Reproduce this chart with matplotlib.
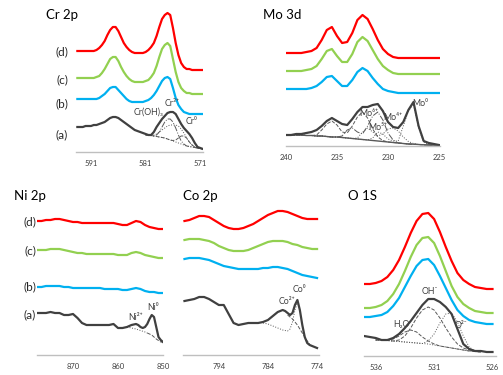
import numpy as np
import matplotlib
matplotlib.use("Agg")
import matplotlib.pyplot as plt

# intensities (arbitrary units, offset stacked)

# ---- Cr 2p ----
cr_ev = np.arange(593.5, 570.4, -0.5)
cr_d = [101, 101, 101, 101, 101, 101, 101, 102, 104, 107, 111, 117, 122, 125, 125, 121, 115, 109, 105, 102,
        100, 99, 99, 99, 99, 100, 102, 105, 109, 116, 125, 133, 137, 139, 137, 124, 109, 97, 89, 85,
        83, 83, 82, 82, 82, 82, 82]
cr_c = [74, 74, 74, 74, 74, 74, 74, 75, 76, 79, 83, 88, 93, 95, 95, 91, 85, 80, 76, 73,
        71, 70, 70, 70, 70, 71, 72, 75, 79, 86, 95, 103, 107, 109, 106, 93, 80, 70, 64, 61,
        59, 59, 58, 58, 58, 58, 58]
cr_b = [53, 53, 53, 53, 53, 53, 53, 53, 54, 56, 58, 61, 64, 65, 65, 62, 59, 56, 53, 51,
        50, 50, 50, 50, 50, 51, 52, 54, 57, 61, 66, 71, 74, 75, 73, 64, 54, 47, 43, 40,
        39, 38, 38, 38, 38, 38, 38]
cr_a = [25, 25, 25, 26, 26, 26, 27, 27, 28, 29, 30, 32, 34, 35, 35, 34, 32, 30, 28, 26,
        24, 22, 21, 20, 19, 18, 17, 17, 20, 25, 29, 33, 36, 39, 40, 40, 38, 33, 28, 24,
        21, 18, 14, 9, 5, 4, 3]
cr_fit_ev = np.arange(581, 570.4, -0.5)
cr_bg = [17, 17, 16.5, 16, 15.5, 15, 14.5, 14, 13, 12, 11, 10, 9, 8, 7, 6, 5.5, 5, 4.5, 4, 3.5, 3]
cr_3 = [17, 17, 16.5, 16, 17, 20, 25, 30, 33, 33, 30, 24, 17, 11, 8, 6, 5.5, 5, 4.5, 4, 3.5, 3]
cr_oh = [17, 17, 17, 17, 18, 20, 22, 24, 26, 27, 27, 27, 26, 23, 19, 14, 10, 7, 5, 4, 3.5, 3]
cr_0 = [17, 17, 16.5, 16, 15.5, 15, 14.5, 14, 13, 12, 11.5, 12, 14, 16, 16, 14, 10, 7, 5, 4, 3.5, 3]

# ---- Mo 3d ----
mo_ev = np.arange(240, 224.9, -0.5)
mo_d = [93, 93, 93, 93, 94, 95, 98, 106, 116, 119, 110, 103, 104, 113, 126, 131, 127, 117, 106, 97,
        92, 89, 88, 88, 88, 88, 88, 88, 88, 88, 88]
mo_c = [75, 75, 75, 75, 76, 77, 80, 87, 95, 97, 90, 84, 84, 92, 104, 109, 105, 96, 87, 80,
        76, 73, 72, 72, 72, 72, 72, 72, 72, 72, 72]
mo_b = [57, 57, 57, 57, 57, 58, 60, 64, 69, 70, 65, 60, 60, 66, 74, 78, 75, 68, 62, 57,
        55, 54, 53, 53, 53, 53, 53, 53, 53, 53, 53]
mo_a = [11, 11, 12, 12, 13, 14, 16, 20, 25, 28, 25, 22, 21, 27, 34, 39, 39, 41, 42, 35,
        24, 19, 18, 24, 36, 44, 20, 5, 3, 2, 1]
mo_bg = [11, 11, 11, 11, 10.5, 10.5, 10, 10, 9.5, 9, 9, 8.5, 8, 7.5, 7, 6.5, 6, 5.5, 5, 4.5,
         4, 3.5, 3, 2.5, 2, 1.8, 1.5, 1.2, 1, 1, 1]
mo_6 = [11, 11, 11, 11, 10.5, 10.5, 11, 16, 22, 25, 21, 14, 13, 20, 29, 34, 28, 17, 9, 5.5,
        4, 3.5, 3, 2.5, 2, 1.8, 1.5, 1.2, 1, 1, 1]
mo_5 = [11, 11, 11, 11, 10.5, 10.5, 10, 10, 9.5, 9, 9, 10, 16, 18, 14, 12, 20, 30, 34, 26,
        13, 6, 3, 2.5, 2, 1.8, 1.5, 1.2, 1, 1, 1]
mo_4 = [11, 11, 11, 11, 10.5, 10.5, 10, 10, 9.5, 9, 9, 8.5, 8, 7.5, 8, 14, 18, 14, 10, 12,
        17, 18, 15, 9, 4.5, 2.5, 1.5, 1.2, 1, 1, 1]
mo_0 = [11, 11, 11, 11, 10.5, 10.5, 10, 10, 9.5, 9, 9, 8.5, 8, 7.5, 7, 6.5, 6, 8, 14, 12,
        7, 5, 5, 20, 35, 42, 18, 4, 1.5, 1, 1]

# ---- Ni 2p ----
ni_ev = np.arange(878, 849.9, -1.0)
ni_d = [134, 134, 135, 135, 136, 136, 135, 134, 133, 133, 132, 132, 132, 132, 132, 132, 132, 132, 131, 130,
        130, 132, 134, 133, 130, 128, 127, 126, 126]
ni_c = [105, 105, 105, 106, 106, 106, 105, 104, 103, 102, 102, 101, 101, 101, 101, 101, 101, 101, 100, 100,
        100, 102, 103, 102, 100, 99, 98, 97, 97]
ni_b = [68, 68, 69, 69, 69, 69, 68, 68, 67, 67, 67, 67, 67, 67, 67, 66, 66, 66, 66, 65,
        65, 66, 67, 66, 64, 63, 63, 62, 62]
ni_ev_a = [878, 877, 876, 875, 874, 873, 872, 871, 870, 869, 868, 867, 866, 865, 864, 863, 862, 861, 860, 859,
           858, 857, 856, 855.5, 855, 854.5, 854, 853.5, 853, 852.5, 852, 851.5, 851, 850.5, 850]
ni_a = [42, 42, 42, 43, 42, 42, 40, 40, 41, 37, 32, 30, 30, 30, 30, 30, 30, 31, 27, 27,
        28, 30, 31, 30, 28, 27, 28, 31, 36, 40, 38, 28, 18, 15, 13]
ni_dot_ev = [858, 856, 854, 853.5]
ni_dot = [28, 26, 23, 22]
ni_dash_ev = [853.5, 852.5, 851.5, 850.5, 850]
ni_dash = [22, 20, 16, 13, 13]

# ---- Co 2p ----
co_ev = np.arange(801, 773.9, -1.0)
co_d = [134, 135, 137, 139, 139, 138, 135, 132, 129, 127, 126, 126, 127, 129, 131, 134, 137, 140, 142, 144,
        144, 143, 141, 139, 137, 136, 136, 136]
co_c = [115, 116, 116, 116, 115, 114, 112, 109, 107, 105, 104, 104, 104, 105, 107, 109, 111, 113, 114, 114,
        114, 113, 111, 110, 108, 107, 106, 106]
co_b = [96, 97, 97, 97, 96, 95, 93, 91, 89, 88, 87, 86, 86, 86, 86, 86, 87, 87, 88, 88,
        87, 86, 84, 82, 80, 79, 78, 77]
co_ev_a = [801, 800, 799, 798, 797, 796, 795, 794, 793, 792, 791, 790, 789, 788, 787, 786, 785, 784, 783, 782,
           781, 780.5, 780, 779.5, 779, 778.5, 778, 777.5, 777, 776.5, 776, 775.5, 775, 774.5, 774]
co_a = [54, 55, 56, 58, 58, 56, 53, 50, 50, 41, 32, 30, 31, 32, 32, 32, 33, 35, 39, 43,
        45, 44, 42, 40, 42, 50, 55, 45, 30, 18, 12, 10, 9, 8, 7]
co_dot_ev = [785, 784, 783, 782, 781, 780, 779.5, 779, 778.5, 778]
co_dot = [32, 31, 29, 27, 25, 24, 26, 33, 45, 52]
co_dash_ev = [780, 779, 778, 777, 776, 775.5]
co_dash = [40, 36, 30, 22, 14, 11]

# ---- O 1s ----
o_ev = np.arange(537, 525.9, -0.5)
o_d = [72, 72, 73, 75, 79, 86, 96, 109, 123, 135, 142, 143, 137, 124, 109, 95, 83, 76, 72, 69, 68, 67, 67]
o_c = [48, 48, 49, 51, 55, 62, 72, 85, 99, 111, 118, 119, 113, 100, 85, 70, 59, 52, 48, 45, 44, 43, 43]
o_b = [39, 39, 40, 41, 44, 50, 58, 69, 80, 90, 96, 97, 91, 80, 68, 56, 46, 40, 36, 34, 33, 32, 32]
o_a = [20, 19, 18, 16, 16, 18, 22, 28, 35, 43, 51, 57, 57, 54, 49, 42, 27, 12, 7, 5, 5, 4, 4]
o_fit_ev = np.arange(536, 526.9, -0.5)
o_bg = [16, 16, 15.5, 15, 14.5, 14, 13.5, 13, 12.5, 12, 11, 10, 9, 8, 7, 6, 5, 4.5, 4]
o_h2o = [16, 16, 16, 17, 20, 24, 26, 24, 19, 15, 12, 10, 9, 8, 7, 6, 5, 4.5, 4]
o_oh = [16, 16, 15.5, 15, 16, 20, 28, 38, 46, 49, 46, 38, 28, 19, 12, 8, 6, 5, 4]
o_o2 = [16, 16, 15.5, 15, 14.5, 14, 13.5, 13, 12.5, 15, 22, 33, 42, 43, 34, 20, 9, 5, 4]

RED, GREEN, BLUE, DARK, FIT = "#ff0000", "#92d050", "#00b0f0", "#404040", "#595959"
W, H = 503, 375

plt.rcParams['font.family'] = ['Lato', 'DejaVu Sans']
fig = plt.figure(figsize=(W / 100, H / 100), dpi=100)


def panel(left, line_y, width, top, xlim, ticks):
    ax = fig.add_axes([left / W, (H - line_y) / H, width / W, (line_y - top) / H])
    ax.set_xlim(*xlim)
    ax.set_ylim(0, line_y - top)
    for s in ("left", "right", "top"):
        ax.spines[s].set_visible(False)
    ax.spines["bottom"].set_color("#bfbfbf")
    ax.spines["bottom"].set_linewidth(1.0)
    ax.set_xticks(ticks)
    ax.set_yticks([])
    ax.tick_params(axis="x", length=0, pad=6, labelsize=5.5, labelcolor="#404040")
    ax.patch.set_alpha(0)
    return ax


def spectra(ax, x, d, c, b, xa, a):
    ax.plot(x, d, color=RED, lw=1.6)
    ax.plot(x, c, color=GREEN, lw=1.6)
    ax.plot(x, b, color=BLUE, lw=1.6)
    ax.plot(xa, a, color=DARK, lw=1.6)


def note(ax, x, y, s):
    ax.text(x, y, s, fontsize=6.3, color="#404040", ha="center", va="center")


fit = dict(color=FIT, lw=0.7)

ax = panel(76, 152, 127, 5, (593.75, 570.5), [591, 581, 571])
ax.plot(cr_fit_ev, cr_bg, ls=":", **fit)
ax.plot(cr_fit_ev, cr_oh, ls=":", **fit)
ax.plot(cr_fit_ev, cr_3, ls="-.", **fit)
ax.plot(cr_fit_ev, cr_0, ls="--", **fit)
spectra(ax, cr_ev, cr_d, cr_c, cr_b, cr_ev, cr_a)
note(ax, 580.4, 40, "Cr(OH)₃")
note(ax, 576.2, 48, "Cr³⁺")
note(ax, 572.6, 30, "Cr⁰")

ax = panel(286, 146, 154, 5, (240, 224.9), [240, 235, 230, 225])
ax.plot(mo_ev, mo_bg, color=FIT, lw=1.0)
ax.plot(mo_ev, mo_6, ls="--", **fit)
ax.plot(mo_ev, mo_5, ls="-.", **fit)
ax.plot(mo_ev, mo_4, ls=":", **fit)
ax.plot(mo_ev, mo_0, ls=":", **fit)
spectra(ax, mo_ev, mo_d, mo_c, mo_b, mo_ev, mo_a)
note(ax, 231.9, 33, "Mo⁶⁺")
note(ax, 231.0, 18, "Mo⁵⁺")
note(ax, 229.5, 28, "Mo⁴⁺")
note(ax, 226.8, 42, "Mo⁰")

ax = panel(37, 355, 126, 200, (878, 850), [870, 860, 850])
ax.plot(ni_dot_ev, ni_dot, ls=":", **fit)
ax.plot(ni_dash_ev, ni_dash, ls="--", **fit)
spectra(ax, ni_ev, ni_d, ni_c, ni_b, ni_ev_a, ni_a)
note(ax, 856.0, 38, "Ni²⁺")
note(ax, 852.2, 47, "Ni⁰")

ax = panel(183, 355, 136, 200, (801.3, 773.6), [794, 784, 774])
ax.plot(co_dot_ev, co_dot, ls=":", **fit)
ax.plot(co_dash_ev, co_dash, ls="--", **fit)
spectra(ax, co_ev, co_d, co_c, co_b, co_ev_a, co_a)
note(ax, 780.1, 53, "Co²⁺")
note(ax, 777.5, 66, "Co⁰")

ax = panel(364, 356, 132, 200, (537, 525.7), [536, 531, 526])
ax.plot(o_fit_ev, o_bg, ls=":", **fit)
ax.plot(o_fit_ev, o_h2o, ls="--", **fit)
ax.plot(o_fit_ev, o_oh, ls="--", **fit)
ax.plot(o_fit_ev, o_o2, ls=":", **fit)
spectra(ax, o_ev, o_d, o_c, o_b, o_ev, o_a)
note(ax, 531.4, 64, "OH⁻")
note(ax, 533.8, 32, "H₂O")
note(ax, 528.7, 30, "O²⁻")

# panel titles and sample labels (pixel positions)
for s, x, y in [("Cr 2p", 46, 15), ("Mo 3d", 263, 15), ("Ni 2p", 14, 196), ("Co 2p", 183, 196), ("O 1S", 348, 196)]:
    fig.text(x / W, 1 - y / H, s, fontsize=9.5, ha="left", va="center", color="black")
for s, y in [("(d)", 52), ("(c)", 80), ("(b)", 104), ("(a)", 135)]:
    fig.text(62 / W, 1 - y / H, s, fontsize=8.5, ha="center", va="center", color="#262626")
for s, y in [("(d)", 222), ("(c)", 251), ("(b)", 287), ("(a)", 315)]:
    fig.text(30 / W, 1 - y / H, s, fontsize=8.5, ha="center", va="center", color="#262626")

fig.savefig("out.png", dpi=100)
